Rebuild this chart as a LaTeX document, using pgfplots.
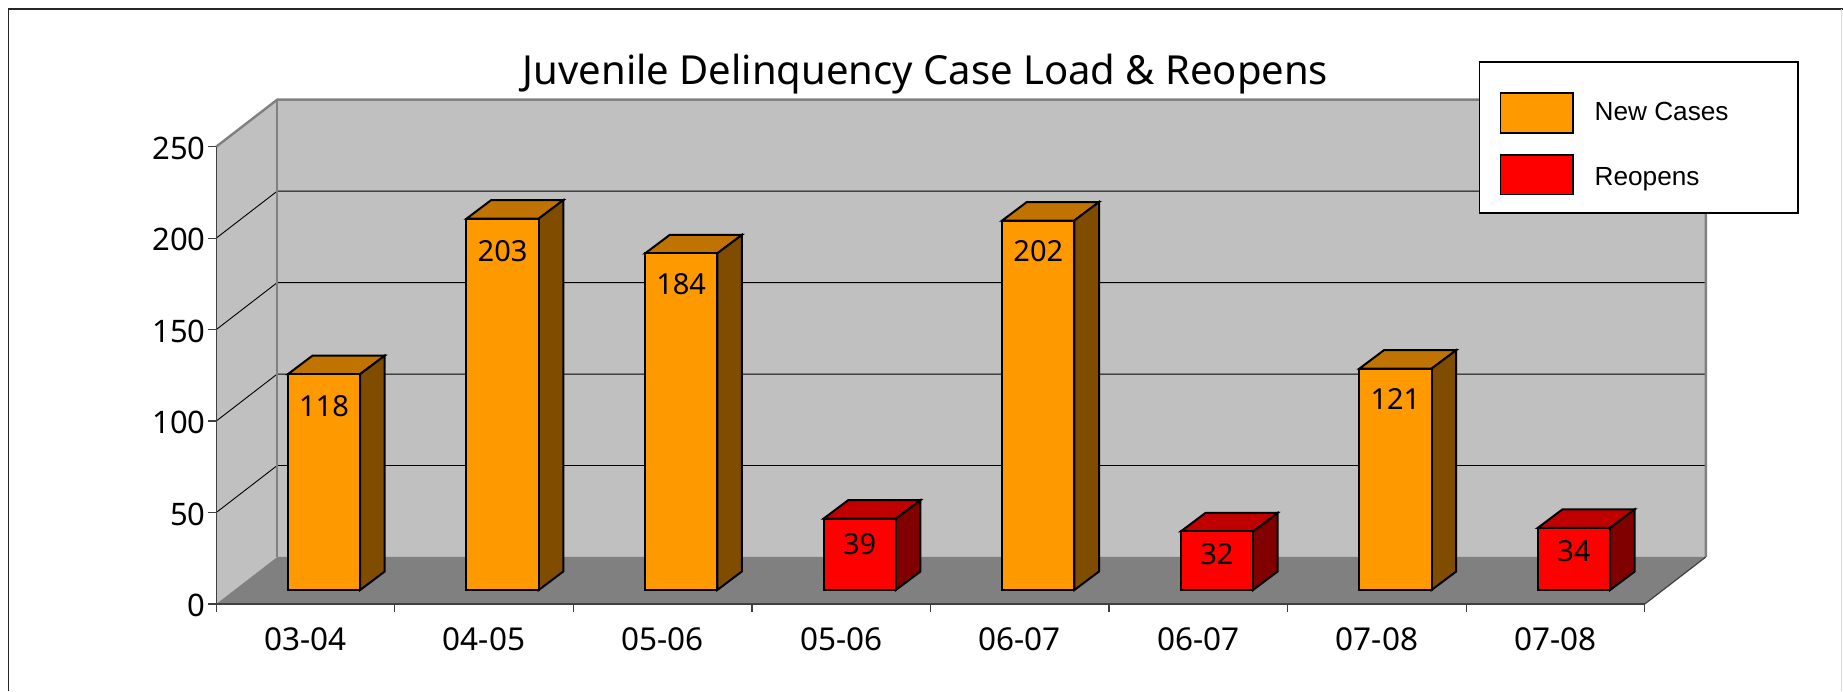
\documentclass[border=0pt]{standalone}
\usepackage{fontspec}
\setmainfont{Noto Sans}
\newfontfamily\legfont{Liberation Sans}
\usepackage{pgfplots}
\pgfplotsset{compat=1.18}
\definecolor{wall}{HTML}{C0C0C0}
\definecolor{floorc}{HTML}{808080}
\definecolor{edgec}{HTML}{808080}
\definecolor{axisc}{HTML}{404040}
\definecolor{org}{HTML}{FF9900}
\definecolor{orgtop}{HTML}{C07300}
\definecolor{orgside}{HTML}{804D00}
\definecolor{rd}{HTML}{FF0000}
\definecolor{rdtop}{HTML}{C00000}
\definecolor{rdside}{HTML}{800000}
% centre, value, front, top, side, label offset
\newcommand\cube[6]{%
  \pgfmathsetmacro\xa{#1-0.2022}%
  \pgfmathsetmacro\xb{#1+0.2022}%
  \pgfmathsetmacro\xc{#1-0.2022+0.1378}%
  \pgfmathsetmacro\xd{#1+0.2022+0.1378}%
  \pgfmathsetmacro\yt{#2+10.1}%
  \addplot[forget plot,draw=black,line width=2pt,line join=miter,fill=#4,xshift=18.5pt,yshift=14pt]
    coordinates {(\xa,#2) (\xb,#2) (\xd,\yt) (\xc,\yt)} -- cycle;
  \addplot[forget plot,draw=black,line width=2pt,line join=miter,fill=#5,xshift=18.5pt,yshift=14pt]
    coordinates {(\xb,0) (\xd,10.1) (\xd,\yt) (\xb,#2)} -- cycle;
  \addplot[forget plot,ybar,bar width=72.2pt,draw=black,line width=2pt,fill=#3,xshift=18.5pt,yshift=14pt,
    nodes near coords={#2},
    every node near coord/.append style={anchor=center,yshift=-#6pt,font=\fontsize{29}{36}\selectfont,text=black}]
    coordinates {(#1,#2)};
}
\begin{document}
\begin{tikzpicture}[x=1pt,y=1pt]
\useasboundingbox (0,0) rectangle (1843,691);
\fill[white] (0,0) rectangle (1843,691);
\draw[line width=1.6pt,black!85] (8.4,0) -- (8.4,682) -- (1843,682);
\draw[line width=1.2pt,black!15] (1841.5,682) -- (1841.5,0);
\begin{axis}[
  at={(216.2pt,87pt)},anchor=south west,
  scale only axis,width=1428.6pt,height=457.3pt,
  xmin=0,xmax=8,ymin=0,ymax=250,
  clip=false,axis on top,
  axis x line=bottom,axis y line=left,
  axis line style={color=axisc,line width=1.4pt,-},
  tick style={color=axisc,line width=1.2pt},
  tick align=outside,
  major tick length=8pt,
  xtick={0,...,8},
  x tick label as interval,
  xticklabels={03-04,04-05,05-06,05-06,06-07,06-07,07-08,07-08},
  ytick={0,50,100,150,200,250},
  /pgf/number format/assume math mode=true,
  xticklabel style={font=\fontsize{31.5}{36}\selectfont,yshift=-12pt},
  yticklabel style={font=\fontsize{31}{38}\selectfont,xshift=1pt,yshift=-1.5pt},
  title={Juvenile Delinquency Case Load \& Reopens},
  title style={at={(0.4965,1.122)},anchor=base,font=\fontsize{40}{48}\selectfont},
  legend style={at={(0.8837,1.1867)},anchor=north west,draw=black,line width=1.6pt,fill=white,
    inner xsep=0pt,inner ysep=0pt,row sep=20.4pt,column sep=0pt,
    font=\legfont\fontsize{26.2}{30}\selectfont},
  legend cell align=left,
]
% walls and floor
\addplot[forget plot,draw=none,fill=wall] coordinates {(0.3416,25.7) (8.3416,25.7) (8.3416,275.7) (0.3416,275.7)} -- cycle;
\addplot[forget plot,draw=none,fill=wall] coordinates {(0,0) (0.3416,25.7) (0.3416,275.7) (0,250)} -- cycle;
\addplot[forget plot,draw=none,fill=floorc] coordinates {(0,0) (8,0) (8.3416,25.7) (0.3416,25.7)} -- cycle;
% gridlines
\addplot[forget plot,black,line width=0.9pt] coordinates {(0,50) (0.3416,75.7) (8.3416,75.7)};
\addplot[forget plot,black,line width=0.9pt] coordinates {(0,100) (0.3416,125.7) (8.3416,125.7)};
\addplot[forget plot,black,line width=0.9pt] coordinates {(0,150) (0.3416,175.7) (8.3416,175.7)};
\addplot[forget plot,black,line width=0.9pt] coordinates {(0,200) (0.3416,225.7) (8.3416,225.7)};
% wall edges
\addplot[forget plot,edgec,line width=2.4pt] coordinates {(0,250) (0.3416,275.7) (8.3416,275.7) (8.3416,25.7)};
\addplot[forget plot,edgec,line width=2.4pt] coordinates {(0.3416,275.7) (0.3416,25.7)};
\addplot[forget plot,axisc,line width=1.2pt] coordinates {(8,0) (8.3416,25.7)};
% bars
\cube{0.5}{118}{org}{orgtop}{orgside}{32}
\cube{1.5}{203}{org}{orgtop}{orgside}{32}
\cube{2.5}{184}{org}{orgtop}{orgside}{31}
\cube{3.5}{39}{rd}{rdtop}{rdside}{25}
\cube{4.5}{202}{org}{orgtop}{orgside}{31}
\cube{5.5}{32}{rd}{rdtop}{rdside}{23}
\cube{6.5}{121}{org}{orgtop}{orgside}{30}
\cube{7.5}{34}{rd}{rdtop}{rdside}{23}
% legend
\addlegendimage{legend image code/.code={
  \draw[line width=1.6pt,draw=black,fill=org] (0pt,-20.8pt) rectangle (72.7pt,18.8pt);
  \path[draw=none,fill=none] (-21pt,49.8pt) rectangle (92.2pt,-20.8pt);}}
\addlegendentry{\makebox[201.5pt][l]{New Cases}}
\addlegendimage{legend image code/.code={
  \draw[line width=1.6pt,draw=black,fill=rd] (0pt,-17.1pt) rectangle (72.7pt,22.5pt);
  \path[draw=none,fill=none] (-21pt,22.5pt) rectangle (92.2pt,-35.7pt);}}
\addlegendentry{\makebox[201.5pt][l]{Reopens}}
\end{axis}
\end{tikzpicture}
\end{document}
